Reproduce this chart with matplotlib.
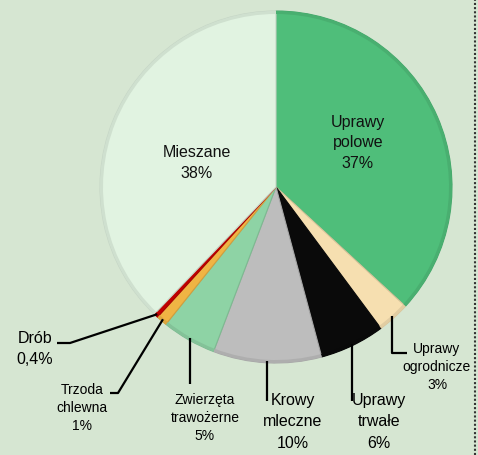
import numpy as np
import matplotlib
matplotlib.use("Agg")
import matplotlib.pyplot as plt
from matplotlib.lines import Line2D
from matplotlib.patches import Wedge
from matplotlib.colors import to_rgb

plt.rcParams['font.family'] = ['Liberation Sans', 'DejaVu Sans']

categories = ["Uprawy\npolowe", "Uprawy\nogrodnicze", "Uprawy\ntrwałe", "Krowy\nmleczne",
              "Zwierzęta\ntrawożerne", "Trzoda\nchlewna", "Drób", "Mieszane"]
values = [37, 3, 6, 10, 5, 1, 0.4, 38]
pct_labels = ["37%", "3%", "6%", "10%", "5%", "1%", "0,4%", "38%"]
colors = ["#4fbe7a", "#f6dfb0", "#0a0a0a", "#bdbdbd", "#8ed3a5", "#f0b444", "#c00000", "#e1f3e1"]

W, H = 478, 455
fig = plt.figure(figsize=(W / 100, H / 100), dpi=100)
bg = "#d6e6d2"
fig.patch.set_facecolor(bg)
ax = fig.add_axes([0, 0, 1, 1])
ax.set_xlim(0, W)
ax.set_ylim(0, H)
ax.set_aspect('equal')
ax.axis('off')


def shade(c, f):
    r, g, b = to_rgb(c)
    return (r * f, g * f, b * f)


cx, cy, R = 276, H - 187, 176
wedges, _ = ax.pie(values, colors=colors, startangle=90, counterclock=False,
                   center=(cx, cy), radius=R, frame=True,
                   wedgeprops=dict(linewidth=0))
ax.set_xlim(0, W)
ax.set_ylim(0, H)
ax.axis('off')

# bevel-like rims
for w, c in zip(wedges, colors):
    w.set_edgecolor(shade(c, 0.88))
    w.set_linewidth(0.8)
    rim = Wedge((cx, cy), R, w.theta1, w.theta2, width=3,
                facecolor=shade(c, 0.92), edgecolor='none')
    ax.add_patch(rim)

big = 11.5
small = 10
ls_big = 1.5
ls_small = 1.38


def anchor(i, r=R - 2):
    w = wedges[i]
    a = np.deg2rad((w.theta1 + w.theta2) / 2)
    return cx + r * np.cos(a), cy + r * np.sin(a)


def P(x, y):
    return x, H - y


# inside labels
ax.text(*P(358, 143), categories[0] + "\n" + pct_labels[0], ha='center', va='center',
        fontsize=big, linespacing=ls_big, color="#111111")
ax.text(*P(197, 163), categories[7] + "\n" + pct_labels[7], ha='center', va='center',
        fontsize=big, linespacing=ls_big, color="#111111")

lk = dict(color="black", lw=1.6, solid_capstyle='butt')

# Uprawy ogrodnicze
x0, y0 = anchor(1)
ax.add_line(Line2D([x0, x0, 407], [y0, H - 353, H - 353], **lk))
ax.text(*P(437, 367), categories[1] + "\n" + pct_labels[1], ha='center', va='center',
        fontsize=small, linespacing=ls_small)

# Uprawy trwale
x0, y0 = anchor(2)
ax.add_line(Line2D([x0, x0], [y0, H - 401], **lk))
ax.text(*P(379, 422), categories[2] + "\n" + pct_labels[2], ha='center', va='center',
        fontsize=big, linespacing=ls_big)

# Krowy mleczne
x0, y0 = anchor(3)
ax.add_line(Line2D([x0, x0], [y0, H - 401], **lk))
ax.text(*P(293, 422), categories[3] + "\n" + pct_labels[3], ha='center', va='center',
        fontsize=big, linespacing=ls_big)

# Zwierzeta trawozerne
x0, y0 = anchor(4)
ax.add_line(Line2D([x0, x0], [y0, H - 384], **lk))
ax.text(*P(205, 418), categories[4] + "\n" + pct_labels[4], ha='center', va='center',
        fontsize=small, linespacing=ls_small)

# Trzoda chlewna
x0, y0 = anchor(5)
ax.add_line(Line2D([x0, 118, 110], [y0, H - 393, H - 393], **lk))
ax.text(*P(82, 408), categories[5] + "\n" + pct_labels[5], ha='center', va='center',
        fontsize=small, linespacing=ls_small)

# Drob
x0, y0 = anchor(6)
ax.add_line(Line2D([x0, 70, 57], [y0, H - 343, H - 343], **lk))
ax.text(*P(35, 349), categories[6] + "\n" + pct_labels[6], ha='center', va='center',
        fontsize=big, linespacing=ls_big)

# dotted right border
ax.add_line(Line2D([475.5, 475.5], [0, H], color="#333333", lw=1.5, linestyle=(0, (1, 1))))

fig.savefig("out.png", dpi=100, facecolor=bg)
